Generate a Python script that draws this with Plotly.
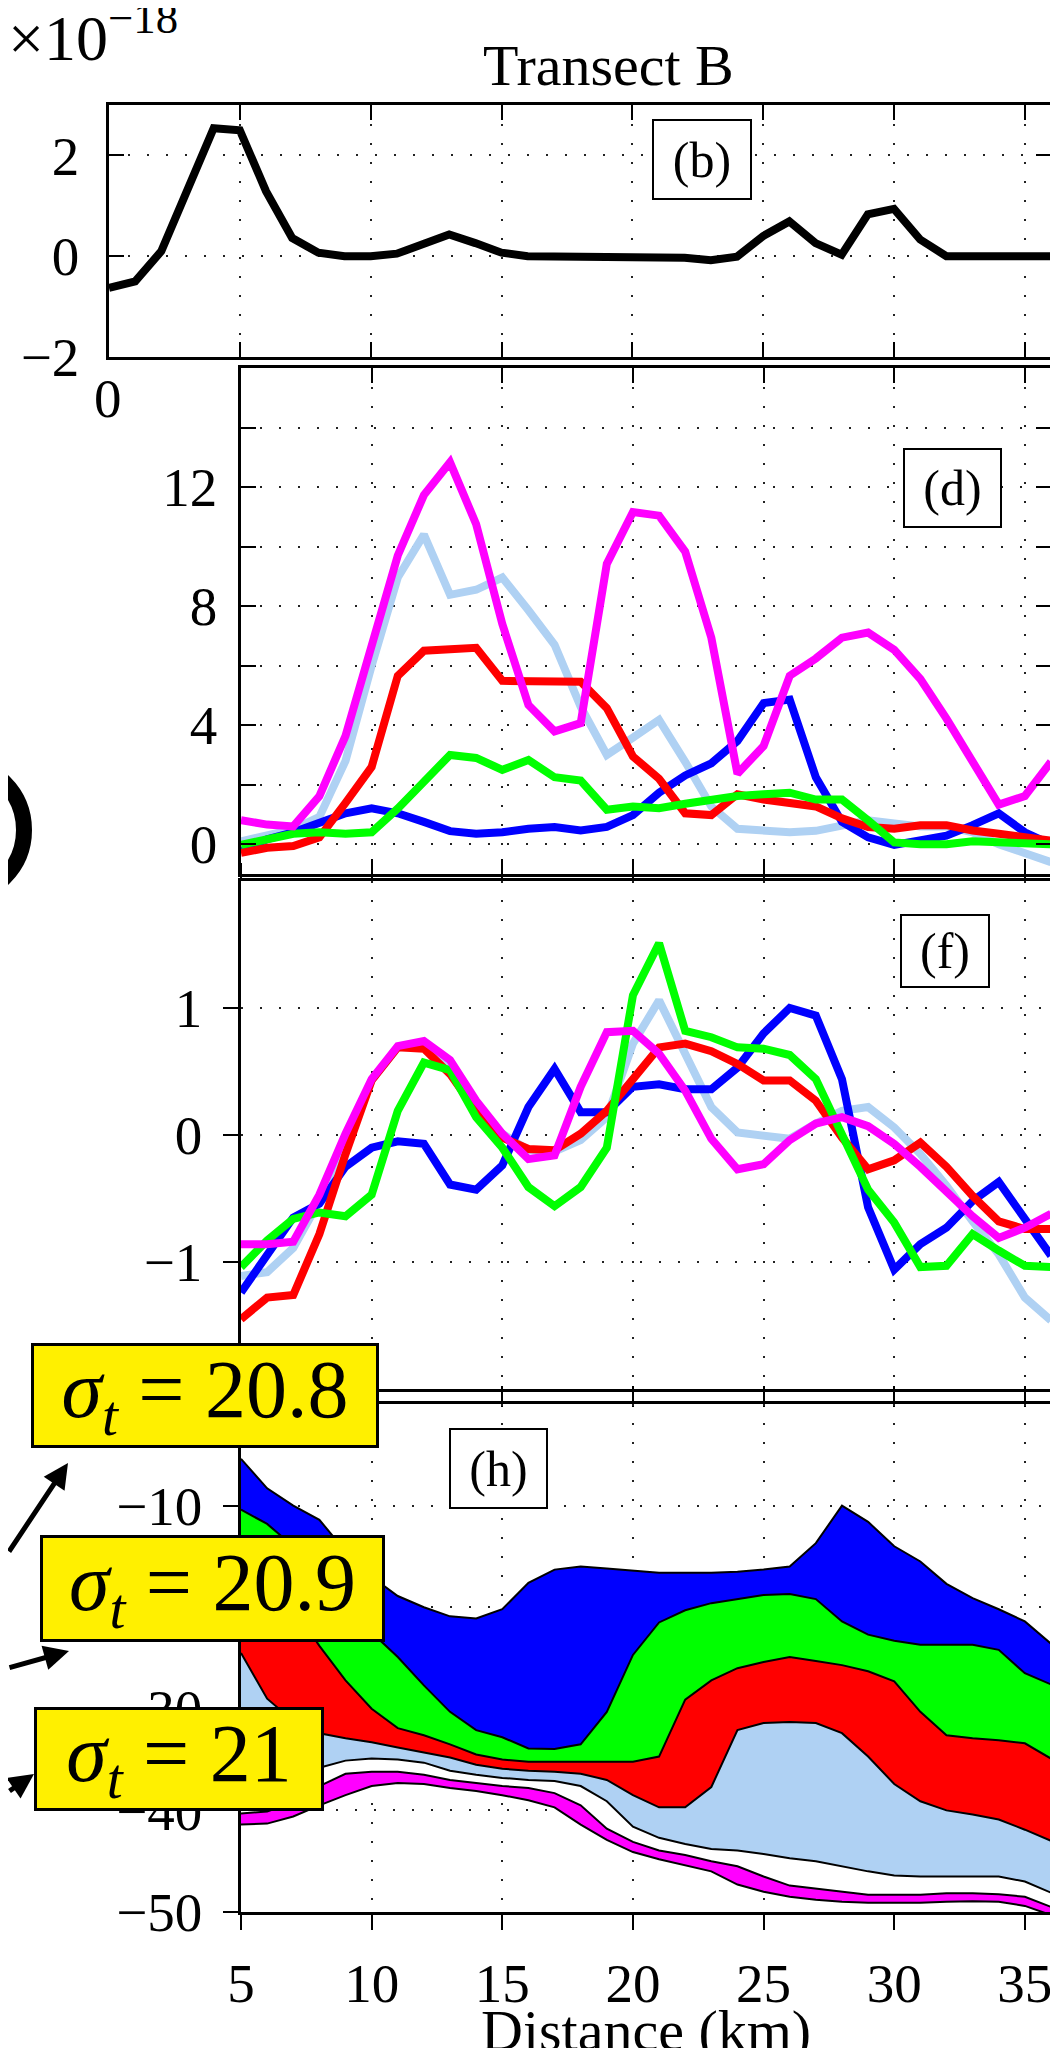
import plotly.graph_objects as go

W, H = 1058, 2048
FONT = "Liberation Serif"

# ---------------- data ----------------
x_b = list(range(0, 37))
val_b = [-0.63, -0.5, 0.1, 1.3, 2.54, 2.5, 1.29, 0.36, 0.07, 0.0, 0.0, 0.05, 0.26, 0.43,
         0.26, 0.07, 0.0, 0.0, 0.0, 0.0, -0.02, -0.02, -0.03, -0.08, -0.01, 0.4, 0.69,
         0.26, 0.03, 0.83, 0.94, 0.33, 0.0, 0.0, 0.0, 0.0, 0.0]

x_km = list(range(5, 37))

d_blue = [-0.23, 0.17, 0.4, 0.75, 1.04, 1.21, 1.04, 0.75, 0.44, 0.35, 0.4, 0.52, 0.58, 0.46,
          0.58, 0.98, 1.73, 2.31, 2.72, 3.47, 4.74, 4.86, 2.25, 0.75, 0.23, -0.02, 0.12,
          0.29, 0.64, 1.04, 0.4, 0.0]
d_red = [-0.29, -0.12, -0.06, 0.23, 1.39, 2.6, 5.66, 6.5, 6.55, 6.6, 5.49, 5.46, 5.46, 5.46,
         4.57, 2.95, 2.2, 1.04, 0.98, 1.68, 1.5, 1.41, 1.27, 0.87, 0.58, 0.52, 0.64, 0.64,
         0.46, 0.35, 0.23, 0.12]
d_green = [-0.02, 0.17, 0.35, 0.4, 0.35, 0.4, 1.2, 2.1, 3.0, 2.9, 2.5, 2.83, 2.25, 2.14,
           1.16, 1.27, 1.21, 1.36, 1.5, 1.62, 1.68, 1.73, 1.5, 1.5, 0.8, 0.06, 0.0, 0.0,
           0.1, 0.06, 0.0, 0.0]
d_lblue = [0.1, 0.3, 0.5, 0.92, 2.8, 6.0, 8.96, 10.4, 8.38, 8.55, 8.96, 7.86, 6.7, 4.62,
           3.0, 3.58, 4.18, 2.77, 1.27, 0.52, 0.44, 0.4, 0.45, 0.64, 0.8, 0.7, 0.6, 0.6,
           0.4, 0.0, -0.3, -0.6]
d_magenta = [0.81, 0.66, 0.6, 1.62, 3.64, 6.7, 9.7, 11.73, 12.83, 10.75, 7.4, 4.68, 3.79,
             4.07, 9.42, 11.16, 11.04, 9.83, 6.94, 2.37, 3.3, 5.66, 6.24, 6.94, 7.11, 6.53,
             5.55, 4.22, 2.77, 1.33, 1.62, 2.77]

f_blue = [-1.24, -0.94, -0.65, -0.54, -0.25, -0.1, -0.05, -0.07, -0.39, -0.43, -0.24, 0.22,
          0.52, 0.18, 0.18, 0.38, 0.4, 0.36, 0.36, 0.53, 0.8, 1.0, 0.94, 0.44, -0.57, -1.06,
          -0.86, -0.73, -0.52, -0.37, -0.65, -0.95]
f_red = [-1.45, -1.28, -1.26, -0.78, -0.15, 0.43, 0.69, 0.68, 0.48, 0.19, -0.02, -0.11,
         -0.12, 0.01, 0.19, 0.43, 0.69, 0.72, 0.66, 0.56, 0.43, 0.43, 0.27, -0.02, -0.27,
         -0.2, -0.06, -0.25, -0.48, -0.68, -0.74, -0.74]
f_green = [-1.04, -0.83, -0.66, -0.61, -0.64, -0.47, 0.19, 0.57, 0.51, 0.14, -0.1, -0.41,
           -0.56, -0.41, -0.1, 1.1, 1.51, 0.82, 0.77, 0.69, 0.68, 0.63, 0.44, 0.01, -0.43,
           -0.69, -1.04, -1.03, -0.78, -0.91, -1.03, -1.04]
f_lblue = [-1.11, -1.08, -0.89, -0.52, -0.04, 0.43, 0.69, 0.69, 0.53, 0.23, 0.01, -0.12,
           -0.13, -0.04, 0.14, 0.72, 1.06, 0.64, 0.22, 0.02, -0.01, -0.03, 0.09, 0.19, 0.22,
           0.06, -0.15, -0.4, -0.68, -0.94, -1.28, -1.46]
f_magenta = [-0.86, -0.86, -0.84, -0.47, 0.01, 0.44, 0.7, 0.74, 0.59, 0.27, 0.01, -0.19,
             -0.16, 0.38, 0.81, 0.82, 0.64, 0.35, -0.03, -0.27, -0.23, -0.04, 0.09, 0.14,
             0.07, -0.07, -0.25, -0.45, -0.64, -0.81, -0.73, -0.62]

# isopycnal depths (m), panel (h), top to bottom
h_A = [-5.4, -8.3, -10.0, -11.4, -14.5, -17.0, -18.9, -20.0, -20.9, -21.1, -20.2, -17.6,
       -16.3, -16.0, -16.2, -16.4, -16.6, -16.6, -16.6, -16.5, -16.3, -16.0, -13.7, -10.0,
       -11.6, -14.0, -15.5, -17.7, -19.1, -20.2, -21.4, -23.6]
h_B = [-10.4, -11.8, -14.0, -16.5, -19.5, -22.5, -24.9, -27.7, -30.3, -32.1, -32.8, -33.9,
       -33.95, -33.5, -30.3, -24.7, -21.5, -20.3, -19.6, -19.2, -18.8, -18.7, -19.2, -21.4,
       -22.7, -23.3, -23.7, -23.7, -23.7, -24.2, -26.5, -27.6]
h_C = [-16.0, -17.5, -20.0, -23.8, -27.2, -30.0, -31.9, -32.6, -33.5, -34.5, -35.0, -35.2,
       -35.2, -35.2, -35.2, -35.2, -34.7, -29.1, -27.2, -26.0, -25.4, -24.9, -25.3, -25.7,
       -26.3, -27.3, -30.3, -32.6, -32.9, -33.1, -33.4, -34.9]
h_D = [-24.5, -29.0, -31.2, -32.4, -32.9, -33.3, -33.8, -34.3, -34.8, -35.5, -35.9, -36.1,
       -36.2, -36.4, -37.0, -38.5, -39.7, -39.7, -37.7, -32.1, -31.4, -31.3, -31.4, -32.4,
       -34.7, -37.4, -39.1, -40.0, -40.4, -40.9, -41.9, -43.0]
h_E = [-38.3, -38.0, -37.0, -35.8, -35.1, -34.9, -35.0, -35.3, -36.1, -36.5, -36.8, -37.0,
       -37.1, -37.6, -39.1, -41.6, -42.7, -43.3, -43.8, -43.95, -44.3, -44.7, -45.0, -45.5,
       -46.0, -46.4, -46.5, -46.5, -46.5, -46.5, -47.0, -48.1]
h_F = [-40.3, -40.1, -39.2, -37.6, -36.4, -36.2, -36.2, -36.5, -37.0, -37.3, -37.6, -37.8,
       -38.3, -39.5, -41.8, -43.1, -43.95, -44.4, -45.0, -45.5, -46.5, -47.4, -47.7, -48.05,
       -48.3, -48.3, -48.3, -48.15, -48.15, -48.25, -48.5, -49.5]
h_G = [-41.4, -41.3, -40.6, -39.5, -38.5, -37.6, -37.3, -37.4, -37.8, -38.1, -38.5, -39.0,
       -39.7, -41.4, -42.9, -44.1, -44.8, -45.4, -46.0, -47.3, -48.0, -48.5, -48.8, -49.0,
       -49.1, -49.1, -49.1, -49.0, -48.95, -49.0, -49.4, -50.3]

sigma_labels = ["20.8", "20.9", "21"]

# ---------------- styles ----------------
BLUE, RED, GREEN, LBLUE, MAG = "#0000ff", "#ff0000", "#00ff00", "#afd1f3", "#ff00ff"
LW = 8


def px(x):
    return x / W


def py(y):
    return 1 - y / H


fig = go.Figure()

# (b)
fig.add_trace(go.Scatter(x=x_b, y=val_b, mode="lines", line=dict(color="black", width=LW),
                         xaxis="x", yaxis="y", showlegend=False))

# (d)
for vals, col in [(d_lblue, LBLUE), (d_blue, BLUE), (d_red, RED), (d_green, GREEN), (d_magenta, MAG)]:
    fig.add_trace(go.Scatter(x=x_km, y=vals, mode="lines", line=dict(color=col, width=LW),
                             xaxis="x2", yaxis="y2", showlegend=False))
# (f)
for vals, col in [(f_lblue, LBLUE), (f_blue, BLUE), (f_red, RED), (f_green, GREEN), (f_magenta, MAG)]:
    fig.add_trace(go.Scatter(x=x_km, y=vals, mode="lines", line=dict(color=col, width=LW),
                             xaxis="x3", yaxis="y3", showlegend=False))
# (h)
layers = [(h_A, None), (h_B, BLUE), (h_C, GREEN), (h_D, RED), (h_E, LBLUE), (h_F, "white"), (h_G, MAG)]
for vals, col in layers:
    fig.add_trace(go.Scatter(x=x_km, y=vals, mode="lines", line=dict(color="black", width=2),
                             fill=("tonexty" if col else None), fillcolor=col,
                             xaxis="x4", yaxis="y4", showlegend=False))

# ---------------- axes ----------------
grid = dict(showgrid=True, gridcolor="#222222", gridwidth=1.6, griddash="2px,17px", zeroline=False,
            showline=True, linecolor="black", linewidth=2.5, mirror="ticks",
            ticklen=15, tickwidth=2, tickcolor="black", automargin=False,
            tickfont=dict(family=FONT, size=55, color="black"))

X0, X1 = 233, 1043
panels = {
    "b": (101, 1043, 97, 349),
    "d": (X0, X1, 360, 866),
    "f": (X0, X1, 873, 1381),
    "h": (X0, X1, 1396, 1904),
}
xt = [5, 10, 15, 20, 25, 30, 35]

def dom(p):
    l, r, t, b = panels[p]
    return [px(l), px(r)], [py(b), py(t)]

xd, yd = dom("b")
fig.update_layout(
    xaxis=dict(domain=xd, anchor="y", range=[0, 36], tickvals=xt, showticklabels=False,
               ticks="inside", **grid),
    yaxis=dict(domain=yd, anchor="x", range=[-2, 3], tickvals=[-2, 0, 2], ticks="inside",
               ticklabelstandoff=16, **grid),
)
xd, yd = dom("d")
fig.update_layout(
    xaxis2=dict(domain=xd, anchor="y2", range=[5, 36], tickvals=xt, showticklabels=False,
                ticks="inside", **grid),
    yaxis2=dict(domain=yd, anchor="x2", range=[-1, 16], tickvals=[0, 2, 4, 6, 8, 10, 12, 14],
                ticktext=["0", "", "4", "", "8", "", "12", ""], ticks="inside",
                ticklabelstandoff=10, **grid),
)
xd, yd = dom("f")
fig.update_layout(
    xaxis3=dict(domain=xd, anchor="y3", range=[5, 36], tickvals=xt, showticklabels=False,
                ticks="outside", **grid),
    yaxis3=dict(domain=yd, anchor="x3", range=[-2, 2], tickvals=[-1, 0, 1], ticks="outside",
                ticklabelstandoff=10, **grid),
)
xd, yd = dom("h")
fig.update_layout(
    xaxis4=dict(domain=xd, anchor="y4", range=[5, 36], tickvals=xt, ticks="outside",
                ticklabelstandoff=6, **grid),
    yaxis4=dict(domain=yd, anchor="x4", range=[-50, 0], tickvals=[-50, -40, -30, -20, -10],
                ticks="outside", ticklabelstandoff=10, **grid),
)

# ---------------- annotations ----------------
ann = []

def text(x, y, s, size, **kw):
    d = dict(xref="paper", yref="paper", x=px(x), y=py(y), text=s, showarrow=False,
             font=dict(family=FONT, size=size, color="black"), xanchor="center", yanchor="middle")
    d.update(kw)
    ann.append(d)

text(600, 57, "Transect B", 58)
text(-2, 25, "×10<sup>−18</sup>", 64, xanchor="left")
text(100, 390, "0", 55)
text(638, 2022, "Distance (km)", 58)

def box(l, r, t, b, s, size, bg="white", bw=2):
    text((l + r) / 2, (t + b) / 2, s, size, bgcolor=bg, bordercolor="black", borderwidth=bw,
         borderpad=0, width=(r - l) - 2 * bw, height=(b - t) - 2 * bw, align="center", valign="middle")

box(644, 744, 111, 192, "(b)", 50)
box(895, 994, 440, 520, "(d)", 50)
box(892, 982, 906, 980, "(f)", 50)
box(441, 540, 1420, 1501, "(h)", 50)

# arrows pointing to isopycnal labels
for (hx, hy, ax, ay) in [(60, 1455, -72, 90), (61, 1643, -72, 17), (26, 1766, -40, 18)]:
    ann.append(dict(xref="paper", yref="paper", x=px(hx), y=py(hy), ax=ax, ay=ay,
                    axref="pixel", ayref="pixel", text="", showarrow=True, arrowhead=2,
                    arrowsize=1.0, arrowwidth=5, arrowcolor="black"))

YEL = "#fff000"
for (l, r, t, b), lab in zip([(23, 371, 1335, 1440), (32, 377, 1527, 1634), (26, 316, 1699, 1803)],
                             sigma_labels):
    box(l, r, t, b, "<i>σ</i><sub><i>t</i></sub> = " + lab, 82, bg=YEL, bw=3)

fig.update_layout(
    width=W, height=H, margin=dict(l=0, r=0, t=0, b=0),
    paper_bgcolor="white", plot_bgcolor="white", showlegend=False,
    annotations=ann,
    shapes=[dict(type="circle", xref="paper", yref="paper",
                 x0=px(-51 - 67), x1=px(-51 + 67), y0=py(822 + 67), y1=py(822 - 67),
                 line=dict(color="black", width=16), layer="above")],
)

fig.write_html("out.html")
